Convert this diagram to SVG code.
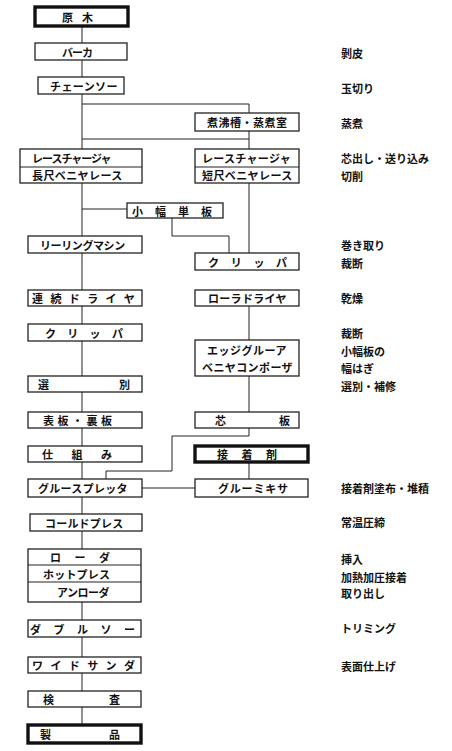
<svg xmlns="http://www.w3.org/2000/svg" width="452" height="751" viewBox="0 0 452 751">
<style>
.box{fill:#fff;stroke:#222;stroke-width:1.3}
.thick{fill:#fff;stroke:#111;stroke-width:3.4}
.div{stroke:#222;stroke-width:1.2}
.t{font-family:"Noto Sans CJK JP","Noto Sans CJK SC",sans-serif;font-weight:bold;font-size:11px;fill:#111;dominant-baseline:central}
.conn{fill:none;stroke:#222;stroke-width:1}
</style>
<rect width="452" height="751" fill="#fff"/>
<g id="connectors" class="conn">
<path d="M82,26 V725"/>
<path d="M82,104 H249 V149"/>
<path d="M82,139 H249"/>
<path d="M82,209 H127"/>
<path d="M249,183 V253"/>
<path d="M172,218 V236 H229 V253"/>
<path d="M249,306 V340"/>
<path d="M249,376 V412"/>
<path d="M249,428 V436 H172 V471 H106 V479"/>
<path d="M249,462 V479"/>
<path d="M142,488 H195"/>
</g>
<g id="n-genboku"><rect class="thick" x="35" y="7" width="93" height="19"/><text class="t" x="62" y="16.5" letter-spacing="9">原木</text></g>
<g id="n-barker"><rect class="box" x="35" y="43" width="92" height="17"/><text class="t" x="62" y="51.5" letter-spacing="-1">バーカ</text></g>
<g id="n-chainsaw"><rect class="box" x="38" y="77" width="86" height="17"/><text class="t" x="50" y="85.5" letter-spacing="0.4">チェーンソー</text></g>
<g id="n-steam"><rect class="box" x="195" y="113" width="104" height="18"/><text class="t" x="207" y="122" letter-spacing="0.5">煮沸槽・蒸煮室</text></g>
<g id="n-lathe-long"><rect class="box" x="20" y="149" width="122" height="34"/><line class="div" x1="20" y1="167" x2="142" y2="167"/><text class="t" x="32" y="158" letter-spacing="-1">レースチャージャ</text><text class="t" x="32" y="175" letter-spacing="0.4">長尺ベニヤレース</text></g>
<g id="n-lathe-short"><rect class="box" x="195" y="149" width="104" height="34"/><line class="div" x1="195" y1="167" x2="299" y2="167"/><text class="t" x="202" y="158" letter-spacing="0.3">レースチャージャ</text><text class="t" x="202" y="175" letter-spacing="0.4">短尺ベニヤレース</text></g>
<g id="n-small"><rect class="box" x="127" y="203" width="96" height="15"/><text class="t" x="132" y="210.5" letter-spacing="12">小幅単板</text></g>
<g id="n-reeling"><rect class="box" x="28" y="236" width="114" height="17"/><text class="t" x="40" y="244.5" letter-spacing="-0.4">リーリングマシン</text></g>
<g id="n-clipper-r"><rect class="box" x="195" y="253" width="104" height="17"/><text class="t" x="208" y="261.5" letter-spacing="11.7">クリッパ</text></g>
<g id="n-dryer-cont"><rect class="box" x="28" y="290" width="114" height="16"/><text class="t" x="32" y="298" letter-spacing="7.4">連続ドライヤ</text></g>
<g id="n-dryer-roll"><rect class="box" x="195" y="290" width="104" height="16"/><text class="t" x="208" y="298" letter-spacing="0.3">ローラドライヤ</text></g>
<g id="n-clipper-l"><rect class="box" x="28" y="324" width="114" height="17"/><text class="t" x="45" y="332.5" letter-spacing="11.3">クリッパ</text></g>
<g id="n-composer"><rect class="box" x="195" y="340" width="104" height="36"/><text class="t" x="207" y="349.5" letter-spacing="0.5">エッジグルーア</text><text class="t" x="202" y="367" letter-spacing="0.4">ベニヤコンポーザ</text></g>
<g id="n-sort"><rect class="box" x="28" y="376" width="114" height="16"/><text class="t" x="38" y="384" letter-spacing="70">選別</text></g>
<g id="n-face"><rect class="box" x="28" y="412" width="114" height="16"/><text class="t" x="43" y="420" letter-spacing="3.5">表板・裏板</text></g>
<g id="n-core"><rect class="box" x="195" y="412" width="104" height="16"/><text class="t" x="215" y="420" letter-spacing="53">芯板</text></g>
<g id="n-layup"><rect class="box" x="28" y="446" width="114" height="16"/><text class="t" x="42" y="454" letter-spacing="18.5">仕組み</text></g>
<g id="n-adhesive"><rect class="thick" x="195" y="446" width="113" height="16"/><text class="t" x="217" y="454" letter-spacing="13.5">接着剤</text></g>
<g id="n-spreader"><rect class="box" x="28" y="479" width="114" height="18"/><text class="t" x="38" y="488" letter-spacing="0.3">グルースプレッタ</text></g>
<g id="n-mixer"><rect class="box" x="195" y="479" width="113" height="18"/><text class="t" x="218" y="488" letter-spacing="0.8">グルーミキサ</text></g>
<g id="n-coldpress"><rect class="box" x="30" y="514" width="112" height="17"/><text class="t" x="45" y="522.5" letter-spacing="0.2">コールドプレス</text></g>
<g id="n-hotpress"><rect class="box" x="28" y="549" width="113" height="53"/><line class="div" x1="28" y1="565" x2="141" y2="565"/><line class="div" x1="28" y1="582" x2="141" y2="582"/><text class="t" x="50" y="557" letter-spacing="13.5">ローダ</text><text class="t" x="43" y="573.5" letter-spacing="0.2">ホットプレス</text><text class="t" x="57" y="592" letter-spacing="-0.5">アンローダ</text></g>
<g id="n-doublesaw"><rect class="box" x="28" y="620" width="113" height="17"/><text class="t" x="30" y="628.5" letter-spacing="12.5">ダブルソー</text></g>
<g id="n-sander"><rect class="box" x="28" y="657" width="113" height="16"/><text class="t" x="32" y="665" letter-spacing="7.4">ワイドサンダ</text></g>
<g id="n-inspect"><rect class="box" x="28" y="691" width="113" height="16"/><text class="t" x="43" y="699" letter-spacing="55">検査</text></g>
<g id="n-product"><rect class="thick" x="28" y="725" width="113" height="18"/><text class="t" x="40" y="734" letter-spacing="58">製品</text></g>
<g id="labels" class="t">
<text class="t" x="341" y="53">剝皮</text>
<text class="t" x="341" y="88">玉切り</text>
<text class="t" x="341" y="123">蒸煮</text>
<text class="t" x="341" y="158">芯出し・送り込み</text>
<text class="t" x="341" y="176">切削</text>
<text class="t" x="341" y="245">巻き取り</text>
<text class="t" x="341" y="263">裁断</text>
<text class="t" x="341" y="298">乾燥</text>
<text class="t" x="341" y="333">裁断</text>
<text class="t" x="341" y="351">小幅板の</text>
<text class="t" x="341" y="368">幅はぎ</text>
<text class="t" x="341" y="386">選別・補修</text>
<text class="t" x="341" y="488">接着剤塗布・堆積</text>
<text class="t" x="341" y="522">常温圧締</text>
<text class="t" x="341" y="559">挿入</text>
<text class="t" x="341" y="577">加熱加圧接着</text>
<text class="t" x="341" y="593">取り出し</text>
<text class="t" x="341" y="628">トリミング</text>
<text class="t" x="341" y="666">表面仕上げ</text>
</g>
</svg>
